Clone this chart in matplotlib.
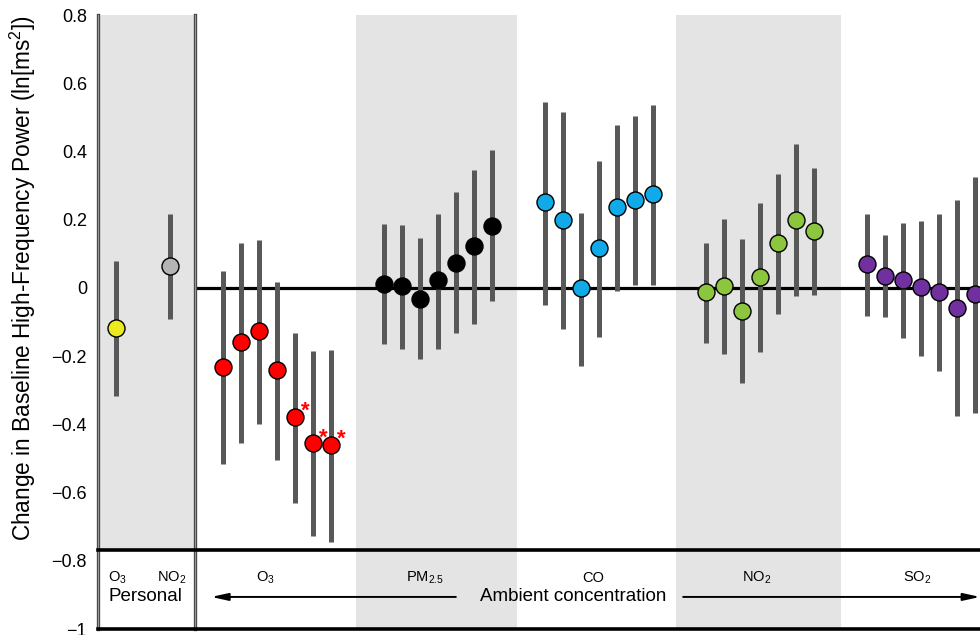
import matplotlib
matplotlib.use("Agg")
import matplotlib.pyplot as plt
import numpy as np

plt.rcParams['font.family'] = ['Liberation Sans', 'DejaVu Sans']
plt.rcParams['mathtext.fontset'] = 'custom'
plt.rcParams['mathtext.rm'] = 'Liberation Sans'
plt.rcParams['mathtext.it'] = 'Liberation Sans:italic'

# ---------------- data ----------------
personal_labels = ["O$_3$", "NO$_2$"]
personal_est = [-0.118, 0.065]
personal_lo = [-0.318, -0.091]
personal_hi = [0.080, 0.218]
personal_colors = ["#eaea1e", "#b4b4b4"]

ambient_groups = ["O$_3$", "PM$_{2.5}$", "CO", "NO$_2$", "SO$_2$"]
ambient_colors = ["#ff0000", "#000000", "#10aae8", "#8cc63e", "#7030a0"]

o3_est = [-0.233, -0.160, -0.126, -0.242, -0.379, -0.456, -0.461]
o3_lo = [-0.515, -0.456, -0.400, -0.506, -0.630, -0.726, -0.744]
o3_hi = [0.050, 0.132, 0.141, 0.018, -0.131, -0.186, -0.181]
o3_sig = [False, False, False, False, True, True, True]

pm_est = [0.012, 0.005, -0.032, 0.022, 0.074, 0.122, 0.182]
pm_lo = [-0.165, -0.179, -0.209, -0.179, -0.132, -0.107, -0.039]
pm_hi = [0.186, 0.184, 0.146, 0.217, 0.281, 0.346, 0.404]

co_est = [0.252, 0.198, -0.001, 0.116, 0.236, 0.259, 0.275]
co_lo = [-0.049, -0.121, -0.228, -0.145, -0.010, 0.009, 0.009]
co_hi = [0.546, 0.515, 0.219, 0.371, 0.477, 0.505, 0.535]

no2_est = [-0.011, 0.006, -0.067, 0.032, 0.132, 0.200, 0.168]
no2_lo = [-0.161, -0.194, -0.280, -0.187, -0.076, -0.025, -0.022]
no2_hi = [0.132, 0.201, 0.142, 0.250, 0.334, 0.421, 0.352]

so2_est = [0.069, 0.036, 0.023, 0.002, -0.011, -0.058, -0.017]
so2_lo = [-0.083, -0.086, -0.147, -0.201, -0.243, -0.376, -0.366]
so2_hi = [0.217, 0.154, 0.189, 0.197, 0.217, 0.257, 0.324]

ytick_vals = [0.8, 0.6, 0.4, 0.2, 0, -0.2, -0.4, -0.6, -0.8, -1]
ytick_labels = ["0.8", "0.6", "0.4", "0.2", "0", "\u22120.2", "\u22120.4",
                "\u22120.6", "\u22120.8", "\u22121"]

# ---------------- figure ----------------
fig = plt.figure(figsize=(9.8, 6.35), dpi=100)
ax = fig.add_axes([0.1, (635 - 629) / 635, 0.9, (629 - 15) / 635])
xl, xr = -7.0, 42.29
ylo, yhi = -1.0, 0.8
ax.set_xlim(xl, xr)
ax.set_ylim(ylo, yhi)

band_y = -0.768
div_x = -1.6
band_col = "#e4e4e4"

# shaded regions
ax.fill_between([xl, div_x], band_y, yhi, color=band_col, lw=0, zorder=0)
ax.fill_between([7.4, 16.4], ylo, yhi, color=band_col, lw=0, zorder=0)
ax.fill_between([25.3, 34.5], ylo, yhi, color=band_col, lw=0, zorder=0)

# frame lines
for xv in (xl, div_x):
    ax.plot([xv, xv], [ylo, yhi], color="#4a4a4a", lw=2.4, zorder=5, clip_on=False)
    ax.plot([xv, xv], [ylo, yhi], color="#9a9a9a", lw=0.7, zorder=5, clip_on=False)
ax.plot([xl, xr], [band_y, band_y], color="black", lw=2.6, zorder=5, clip_on=False)
ax.plot([xl, xr], [ylo, ylo], color="black", lw=2.6, zorder=5, clip_on=False)
ax.hlines(0, div_x, xr, color="black", lw=2.3, zorder=2)

for s in ax.spines.values():
    s.set_visible(False)
ax.set_xticks([])
ax.set_yticks(ytick_vals)
ax.set_yticklabels(ytick_labels)
ax.tick_params(axis="y", length=0, labelsize=13, pad=8)
ax.set_ylabel("Change in Baseline High-Frequency Power (ln[ms$^2$])", fontsize=16.3)
ax.yaxis.set_label_coords(-0.068, 0.571)

err_col = "#585858"
msize = 150

def draw(xs, est, lo, hi, color):
    ax.vlines(xs, lo, hi, color=err_col, lw=3.6, zorder=3)
    ax.scatter(xs, est, s=msize, c=color, edgecolors="black", linewidths=1.0, zorder=4)

# personal
px = [-6, -3]
for i in range(2):
    draw([px[i]], [personal_est[i]], [personal_lo[i]], [personal_hi[i]], personal_colors[i])

groups = [(o3_est, o3_lo, o3_hi), (pm_est, pm_lo, pm_hi), (co_est, co_lo, co_hi),
          (no2_est, no2_lo, no2_hi), (so2_est, so2_lo, so2_hi)]
for g, (est, lo, hi) in enumerate(groups):
    xs = np.arange(len(est)) + 9 * g
    draw(xs, est, lo, hi, ambient_colors[g])

# significance stars
for i, sig in enumerate(o3_sig):
    if sig:
        ax.annotate("*", (i, o3_est[i]), xytext=(7.5, 4), textcoords="offset points",
                    color="red", fontsize=16, fontweight="bold", ha="center", va="center",
                    zorder=6)

# bottom band text
lab_y = -0.85
ax.text(-5.9, lab_y, personal_labels[0], ha="center", va="center", fontsize=10.5)
ax.text(-2.9, lab_y, personal_labels[1], ha="center", va="center", fontsize=10.5)
ax.text(-4.35, -0.906, "Personal", ha="center", va="center", fontsize=13.5)

amb_x = [2.35, 11.3, 20.7, 29.8, 38.8]
for g, lab in enumerate(ambient_groups):
    ax.text(amb_x[g], lab_y, lab, ha="center", va="center", fontsize=10.5)

ax.text(19.55, -0.906, "Ambient concentration", ha="center", va="center", fontsize=13.5)
arrow_kw = dict(arrowstyle="-|>,head_length=1.0,head_width=0.22", color="black", lw=1.4,
                shrinkA=0, shrinkB=0)
ax.annotate("", xy=(-0.67, -0.906), xytext=(13.0, -0.906), arrowprops=arrow_kw)
ax.annotate("", xy=(xr, -0.906), xytext=(25.7, -0.906), arrowprops=arrow_kw,
            annotation_clip=False)

fig.savefig("out.png", dpi=100)
